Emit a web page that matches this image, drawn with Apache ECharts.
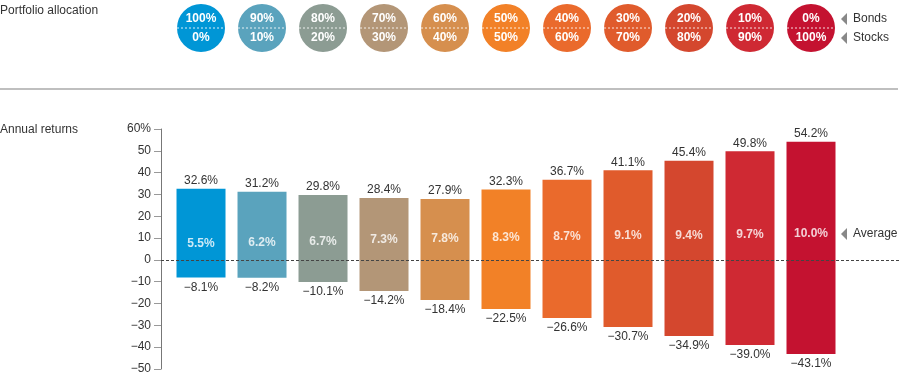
<!DOCTYPE html>
<html>
<head>
<meta charset="utf-8">
<script src="https://cdn.jsdelivr.net/npm/echarts@6/dist/echarts.min.js"></script>
<style>
  html, body { margin: 0; padding: 0; background: #fff; }
  #chart { width: 900px; height: 375px; }
</style>
</head>
<body>
<div id="chart"></div>
<script>
// allocation mix for each portfolio
const bondPct = [100, 90, 80, 70, 60, 50, 40, 30, 20, 10, 0];
const stockPct = [0, 10, 20, 30, 40, 50, 60, 70, 80, 90, 100];
// annual returns (%)
const bestYear = [32.6, 31.2, 29.8, 28.4, 27.9, 32.3, 36.7, 41.1, 45.4, 49.8, 54.2];
const worstYear = [-8.1, -8.2, -10.1, -14.2, -18.4, -22.5, -26.6, -30.7, -34.9, -39.0, -43.1];
const averageReturn = [5.5, 6.2, 6.7, 7.3, 7.8, 8.3, 8.7, 9.1, 9.4, 9.7, 10.0];
const colors = ['#0096d6', '#5aa3bd', '#8c9c93', '#b39677', '#d68f4e', '#f28127',
  '#ea6a2c', '#e05b2c', '#d4472e', '#cf2933', '#c41230'];

const FONT = '"Liberation Sans", Arial, sans-serif';
const idx = bondPct.map((d, i) => i);
const minus = v => (v < 0 ? '\u2212' + Math.abs(v) : '' + v);

const chart = echarts.init(document.getElementById('chart'));

const option = {
  animation: false,
  textStyle: { fontFamily: FONT },
  title: [
    { text: 'Portfolio allocation', left: -5, top: 0,
      textStyle: { fontSize: 12, fontWeight: 'normal', color: '#333', fontFamily: FONT } },
    { text: 'Annual returns', left: -5, top: 119,
      textStyle: { fontSize: 12, fontWeight: 'normal', color: '#333', fontFamily: FONT } }
  ],
  grid: [
    { left: 161, right: 0, top: 4, height: 48 },
    { left: 161, right: 0, top: 129, bottom: 5 }
  ],
  xAxis: [
    { gridIndex: 0, type: 'value', min: -0.656, max: 11.459, show: false },
    { gridIndex: 1, type: 'value', min: -0.656, max: 11.459, show: false }
  ],
  yAxis: [
    { gridIndex: 0, type: 'value', min: 0, max: 1, show: false },
    {
      gridIndex: 1, type: 'value', min: -50, max: 60, interval: 10,
      axisLine: { show: true, onZero: false, lineStyle: { color: '#777', width: 1 } },
      axisTick: { show: true, length: 7, lineStyle: { color: '#999' } },
      splitLine: { show: false },
      axisLabel: {
        margin: 10, fontSize: 12, color: '#333', fontFamily: FONT,
        formatter: v => (v === 60 ? '60%' : minus(v))
      }
    }
  ],
  series: [
    {
      type: 'custom',
      xAxisIndex: 0, yAxisIndex: 0,
      data: idx.map(i => [i, 0.5]),
      renderItem: (params, api) => {
        const i = params.dataIndex;
        const p = api.coord([api.value(0), api.value(1)]);
        const r = 24;
        return {
          type: 'group',
          children: [
            { type: 'circle', shape: { cx: p[0], cy: p[1], r: r }, style: { fill: colors[i] } },
            { type: 'line', shape: { x1: p[0] - r, y1: p[1], x2: p[0] + r, y2: p[1] },
              style: { stroke: 'rgba(255,255,255,0.85)', lineWidth: 1, lineDash: [2, 2] } },
            { type: 'text', style: { x: p[0], y: p[1] - 9, text: bondPct[i] + '%', fill: '#fff',
              font: 'bold 12px ' + FONT, align: 'center', verticalAlign: 'middle' } },
            { type: 'text', style: { x: p[0], y: p[1] + 10, text: stockPct[i] + '%', fill: '#fff',
              font: 'bold 12px ' + FONT, align: 'center', verticalAlign: 'middle' } }
          ]
        };
      }
    },
    {
      name: 'best', type: 'bar', stack: 'range',
      xAxisIndex: 1, yAxisIndex: 1, barWidth: 49,
      data: bestYear.map((v, i) => [i, v]),
      itemStyle: { color: p => colors[p.dataIndex] },
      label: {
        show: true, position: 'top', distance: 2, fontSize: 12, color: '#333', fontFamily: FONT,
        formatter: p => p.value[1].toFixed(1) + '%'
      },
      markLine: {
        silent: true, symbol: 'none', label: { show: false },
        lineStyle: { color: '#444', width: 1, type: [3, 2] },
        data: [{ yAxis: 0 }]
      }
    },
    {
      name: 'worst', type: 'bar', stack: 'range',
      xAxisIndex: 1, yAxisIndex: 1, barWidth: 49,
      data: worstYear.map((v, i) => [i, v]),
      itemStyle: { color: p => colors[p.dataIndex] },
      label: {
        show: true, position: 'bottom', distance: 4, fontSize: 12, color: '#333', fontFamily: FONT,
        formatter: p => '\u2212' + Math.abs(p.value[1]).toFixed(1) + '%'
      }
    },
    {
      name: 'average', type: 'scatter',
      xAxisIndex: 1, yAxisIndex: 1, symbolSize: 1, z: 5,
      itemStyle: { color: 'rgba(0,0,0,0)' },
      data: averageReturn.map((v, i) => [i, v]),
      label: {
        show: true, position: 'inside', offset: [0, -4],
        fontSize: 12, fontWeight: 'bold', color: '#fff', fontFamily: FONT,
        formatter: p => p.value[1].toFixed(1) + '%'
      }
    }
  ],
  graphic: [
    { type: 'line', shape: { x1: 0, y1: 89, x2: 898, y2: 89 }, style: { stroke: '#aaa', lineWidth: 1.5 } },
    { type: 'polygon', shape: { points: [[841, 19], [847, 13], [847, 25]] }, style: { fill: '#888' } },
    { type: 'polygon', shape: { points: [[841, 38], [847, 32], [847, 44]] }, style: { fill: '#888' } },
    { type: 'polygon', shape: { points: [[841, 234], [847, 228], [847, 240]] }, style: { fill: '#888' } },
    { type: 'text', left: 853, top: 13, style: { text: 'Bonds', font: '12px ' + FONT, fill: '#333' } },
    { type: 'text', left: 853, top: 32, style: { text: 'Stocks', font: '12px ' + FONT, fill: '#333' } },
    { type: 'text', left: 853, top: 228, style: { text: 'Average', font: '12px ' + FONT, fill: '#333' } }
  ]
};

chart.setOption(option);
</script>
</body>
</html>
